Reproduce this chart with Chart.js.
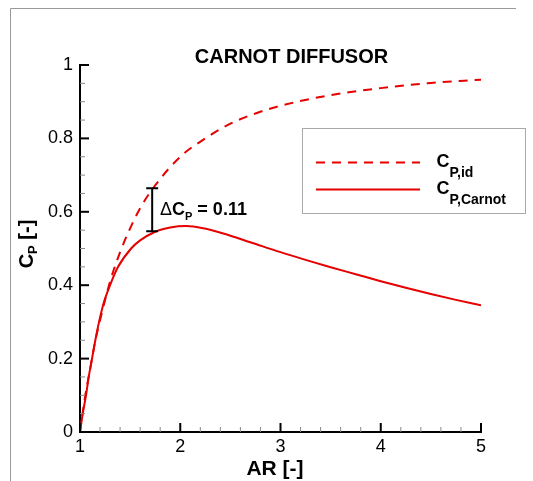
<!DOCTYPE html>
<html>
<head>
<meta charset="utf-8">
<script src="https://cdn.jsdelivr.net/npm/chart.js@4.4.0/dist/chart.umd.min.js"></script>
<style>
    html, body { margin: 0; padding: 0; background: #fff; }
    #wrap { position: relative; width: 533px; height: 481px; }
</style>
</head>
<body>
<div id="wrap"><canvas id="cp-chart" width="533" height="481"></canvas></div>
<script>
    // Werte
    const arIdeal = [1, 1.05, 1.1, 1.15, 1.2, 1.3, 1.4, 1.5, 1.6, 1.75, 2, 2.25, 2.5, 2.75, 3, 3.5, 4, 4.5, 5];
    const cpIdeal = [0, 0.095, 0.17, 0.245, 0.305, 0.41, 0.49, 0.555, 0.61, 0.672, 0.75, 0.80, 0.84, 0.868, 0.889, 0.918, 0.937, 0.951, 0.96];

    const arCarnot = [1, 1.027, 1.06, 1.087, 1.12, 1.153, 1.19, 1.235, 1.3, 1.38, 1.51, 1.6, 1.745, 1.9, 2.06, 2.23, 2.43, 2.7, 3, 3.25, 3.5, 3.75, 4, 4.25, 4.5, 4.75, 5];
    const cpCarnot = [0, 0.05, 0.10, 0.15, 0.20, 0.25, 0.30, 0.35, 0.40, 0.45, 0.50, 0.522, 0.545, 0.557, 0.561, 0.555, 0.541, 0.517, 0.49, 0.469, 0.449, 0.43, 0.411, 0.393, 0.376, 0.36, 0.345];

    const xTicks = [1, 2, 3, 4, 5];
    const yTicks = [0, 0.2, 0.4, 0.6, 0.8, 1];
    const yTickLabels = ['0', '0.2', '0.4', '0.6', '0.8', '1'];

    const deltaBar = [1.72, 0.547, 0.664]; // AR, unten, oben
    const deltaValue = '0.11';

    const RED = '#e60000';
    const FONT = '"Liberation Sans", Arial, sans-serif';

    function pts(xs, ys) {
        return xs.map((x, i) => ({ x: x, y: ys[i] }));
    }

    // Text mit Index (C + tiefgestelltes P usw.), gibt Ende-x zurueck
    function subText(ctx, x, y, main, sub, size, subSize, drop, rest) {
        ctx.font = 'bold ' + size + 'px ' + FONT;
        ctx.fillText(main, x, y);
        x += ctx.measureText(main).width;
        ctx.font = 'bold ' + subSize + 'px ' + FONT;
        ctx.fillText(sub, x, y + drop);
        x += ctx.measureText(sub).width;
        if (rest) {
            ctx.font = 'bold ' + size + 'px ' + FONT;
            ctx.fillText(rest, x, y);
            x += ctx.measureText(rest).width;
        }
        return x;
    }

    const decor = {
        id: 'decor',
        afterDraw(chart) {
            const ctx = chart.ctx;
            const xs = chart.scales.x, ys = chart.scales.y;
            const ca = chart.chartArea;
            ctx.save();

            // Rahmen
            ctx.strokeStyle = '#999';
            ctx.lineWidth = 1;
            ctx.beginPath();
            ctx.moveTo(10.5, 481);
            ctx.lineTo(10.5, 8.5);
            ctx.lineTo(516, 8.5);
            ctx.stroke();

            // Teilstriche nach innen
            for (let i = 0; i <= 20; i++) {
                const px = xs.getPixelForValue(1 + i * 0.2);
                const major = i % 5 === 0;
                ctx.strokeStyle = major ? '#000' : '#888';
                ctx.lineWidth = major ? 2 : 1;
                ctx.beginPath();
                ctx.moveTo(px, ca.bottom);
                ctx.lineTo(px, ca.bottom - (major ? 9 : 5));
                ctx.stroke();
            }
            for (let i = 0; i <= 20; i++) {
                const py = ys.getPixelForValue(i * 0.05);
                const major = i % 4 === 0;
                ctx.strokeStyle = major ? '#000' : '#888';
                ctx.lineWidth = major ? 2 : 1;
                ctx.beginPath();
                ctx.moveTo(ca.left, py);
                ctx.lineTo(ca.left + (major ? 9 : 5), py);
                ctx.stroke();
            }

            ctx.fillStyle = '#000';
            ctx.textBaseline = 'alphabetic';

            // Titel
            ctx.font = 'bold 20px ' + FONT;
            ctx.textAlign = 'center';
            ctx.fillText('CARNOT DIFFUSOR', 291.5, 62.5);

            // x-Achsentitel
            ctx.font = 'bold 21px ' + FONT;
            ctx.fillText('AR [-]', 275, 475);

            // y-Achsentitel
            ctx.textAlign = 'left';
            ctx.save();
            ctx.translate(33, 244);
            ctx.rotate(-Math.PI / 2);
            ctx.font = 'bold 20px ' + FONT;
            let w = ctx.measureText('C').width + ctx.measureText(' [-]').width;
            ctx.font = 'bold 13px ' + FONT;
            w += ctx.measureText('P').width;
            subText(ctx, -w / 2, 0, 'C', 'P', 20, 13, 4, ' [-]');
            ctx.restore();

            // Delta-Balken
            const bx = xs.getPixelForValue(deltaBar[0]);
            const b0 = ys.getPixelForValue(deltaBar[1]);
            const b1 = ys.getPixelForValue(deltaBar[2]);
            ctx.strokeStyle = '#000';
            ctx.lineWidth = 2;
            ctx.beginPath();
            ctx.moveTo(bx, b0);
            ctx.lineTo(bx, b1);
            ctx.moveTo(bx - 6, b0);
            ctx.lineTo(bx + 6, b0);
            ctx.moveTo(bx - 6, b1);
            ctx.lineTo(bx + 6, b1);
            ctx.stroke();

            ctx.font = '18px ' + FONT;
            ctx.fillText('\u0394', 160, 215);
            let tx = 160 + ctx.measureText('\u0394').width;
            subText(ctx, tx, 215, 'C', 'P', 18, 11, 4.5, ' = ' + deltaValue);

            // Legende
            ctx.strokeStyle = '#aaa';
            ctx.lineWidth = 1;
            ctx.strokeRect(302.5, 128.5, 223, 85);
            ctx.strokeStyle = RED;
            ctx.lineWidth = 2;
            ctx.setLineDash([9, 7]);
            ctx.beginPath();
            ctx.moveTo(316, 162.5);
            ctx.lineTo(420, 162.5);
            ctx.stroke();
            ctx.setLineDash([]);
            ctx.beginPath();
            ctx.moveTo(316, 189.5);
            ctx.lineTo(420, 189.5);
            ctx.stroke();
            subText(ctx, 436.5, 167, 'C', 'P,id', 18, 14, 10);
            subText(ctx, 436.5, 194, 'C', 'P,Carnot', 18, 14, 9.5);

            ctx.restore();
        }
    };

    new Chart(document.getElementById('cp-chart').getContext('2d'), {
        type: 'scatter',
        data: {
            datasets: [{
                label: 'C_P,id',
                data: pts(arIdeal, cpIdeal),
                showLine: true,
                borderColor: RED,
                borderWidth: 2,
                borderDash: [9, 7],
                pointRadius: 0,
                cubicInterpolationMode: 'monotone',
                fill: false
            }, {
                label: 'C_P,Carnot',
                data: pts(arCarnot, cpCarnot),
                showLine: true,
                borderColor: RED,
                borderWidth: 2,
                pointRadius: 0,
                cubicInterpolationMode: 'monotone',
                fill: false
            }]
        },
        options: {
            responsive: false,
            animation: false,
            devicePixelRatio: 1,
            layout: { padding: { top: 65, right: 52, left: 0, bottom: 0 } },
            plugins: {
                legend: { display: false },
                tooltip: { enabled: false },
                title: { display: false }
            },
            scales: {
                x: {
                    type: 'linear',
                    min: 1,
                    max: 5,
                    afterBuildTicks: s => { s.ticks = xTicks.map(v => ({ value: v })); },
                    afterFit: s => { s.height = 49; },
                    grid: { display: false, drawTicks: false },
                    border: { display: true, color: '#000', width: 2 },
                    ticks: {
                        color: '#000',
                        font: { family: FONT, size: 18 },
                        padding: 4,
                        maxRotation: 0,
                        autoSkip: false
                    }
                },
                y: {
                    type: 'linear',
                    min: 0,
                    max: 1,
                    afterBuildTicks: s => { s.ticks = yTicks.map(v => ({ value: v })); },
                    afterFit: s => { s.width = 80; },
                    grid: { display: false, drawTicks: false },
                    border: { display: true, color: '#000', width: 2 },
                    ticks: {
                        color: '#000',
                        font: { family: FONT, size: 18 },
                        padding: 7,
                        autoSkip: false,
                        callback: (v, i) => yTickLabels[i]
                    }
                }
            }
        },
        plugins: [decor]
    });
</script>
</body>
</html>
